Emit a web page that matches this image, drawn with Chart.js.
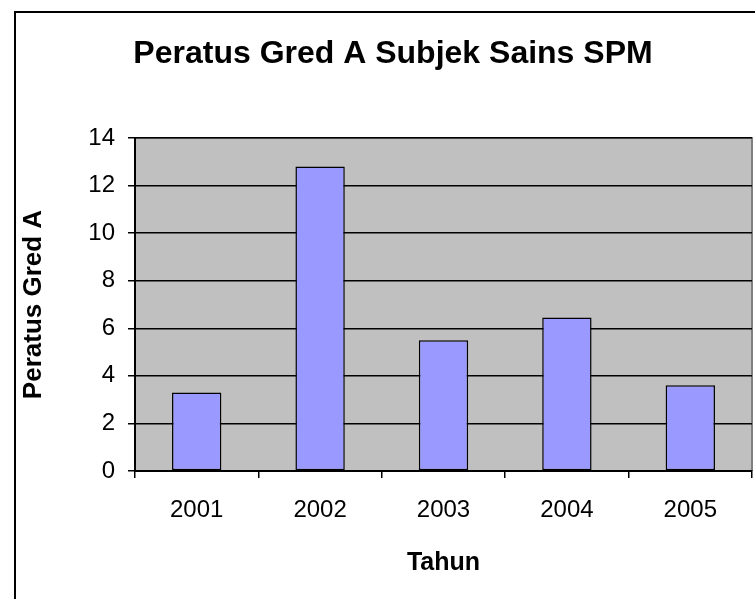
<!DOCTYPE html>
<html>
<head>
<meta charset="utf-8">
<script src="https://cdn.jsdelivr.net/npm/chart.js"></script>
<style>
  body { margin: 0; background: #fff; }
  canvas { display: block; }
</style>
</head>
<body>
<canvas id="myChart" width="755" height="599"></canvas>
<script>
const years = ['2001', '2002', '2003', '2004', '2005'];
const gradeA = [3.3, 12.8, 5.5, 6.45, 3.6];
const yTicks = [0, 2, 4, 6, 8, 10, 12, 14];

const fontFamily = "'Liberation Sans', Arial, sans-serif";

// grey plot area + outer chart frame, like the old Excel chart
const frame = {
    id: 'frame',
    beforeDraw(chart) {
        const c = chart.ctx;
        const a = chart.chartArea;
        c.save();
        c.fillStyle = '#C0C0C0';
        c.fillRect(a.left, a.top, a.right - a.left, a.bottom - a.top);
        c.strokeStyle = '#808080';
        c.lineWidth = 2;
        c.beginPath();
        c.moveTo(a.left, a.top);
        c.lineTo(a.right, a.top);
        c.lineTo(a.right, a.bottom);
        c.stroke();
        c.strokeStyle = '#000';
        c.lineWidth = 2;
        c.strokeRect(15, 12, 800, 700);
        c.restore();
    }
};

var ctx = document.getElementById('myChart').getContext('2d');
var chart = new Chart(ctx, {
    type: 'bar',
    data: {
        labels: years,
        datasets: [{
            data: gradeA,
            backgroundColor: '#9999FF',
            borderColor: '#000',
            borderWidth: 1.5,
            borderSkipped: false,
            categoryPercentage: 1,
            barPercentage: 0.4
        }]
    },
    plugins: [frame],
    options: {
        responsive: false,
        animation: false,
        layout: { padding: { left: 34, right: 3, top: 0, bottom: 0 } },
        plugins: {
            legend: { display: false },
            tooltip: { enabled: false },
            title: {
                display: true,
                text: 'Peratus Gred A Subjek Sains SPM',
                color: '#000',
                font: { family: fontFamily, size: 32, weight: 'bold', lineHeight: 1.2 },
                padding: { top: 35, bottom: 64.6 }
            }
        },
        scales: {
            x: {
                afterFit: (s) => { s.height = 128; },
                grid: { offset: true, drawOnChartArea: false, drawTicks: true, tickLength: 7, color: '#000', lineWidth: 1.5 },
                border: { color: '#000', width: 2 },
                ticks: { color: '#000', padding: 18, font: { family: fontFamily, size: 24 } },
                title: {
                    display: true,
                    text: 'Tahun',
                    color: '#000',
                    font: { family: fontFamily, size: 25, weight: 'bold', lineHeight: 1.2 },
                    padding: { top: 0, bottom: 21 }
                }
            },
            y: {
                min: 0,
                max: 14,
                afterFit: (s) => { s.width = 101; },
                afterBuildTicks: (s) => { s.ticks = yTicks.map(v => ({ value: v })); },
                grid: { color: '#000', lineWidth: 1.5, tickLength: 7 },
                border: { color: '#000', width: 2 },
                ticks: { color: '#000', padding: 13, font: { family: fontFamily, size: 24 } },
                title: {
                    display: true,
                    text: 'Peratus Gred A',
                    color: '#000',
                    font: { family: fontFamily, size: 26, weight: 'bold', lineHeight: 1.2 },
                    padding: { top: -16, bottom: 0 }
                }
            }
        }
    }
});
</script>
</body>
</html>
